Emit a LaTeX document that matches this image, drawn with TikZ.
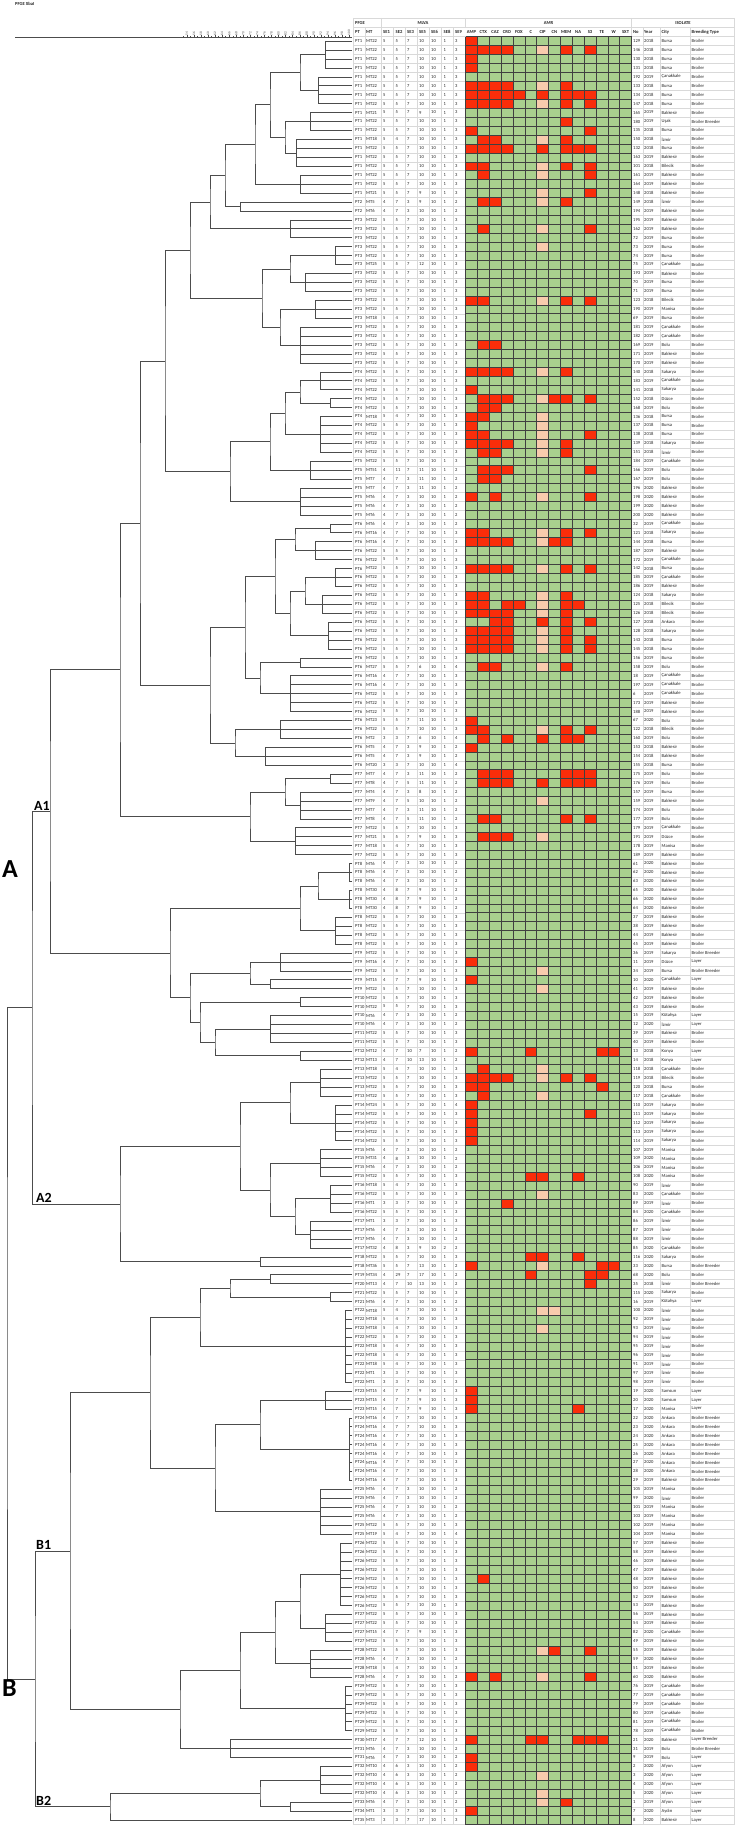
\documentclass[tikz,border=0pt]{standalone}
\usepackage{fontspec}
\setmainfont{Carlito}
\definecolor{amrgreen}{RGB}{169,208,142}
\definecolor{amrred}{RGB}{250,45,10}
\definecolor{amrpale}{RGB}{248,203,173}
\tikzset{branch/.style = {draw = black!70, line width = 0.5pt}}
\tikzset{cell/.style = {anchor = west, inner sep = 0pt, text = black!85, font = \fontsize{4.6}{5}\selectfont}}
\tikzset{colhead/.style = {cell, font = \fontsize{4.6}{5}\selectfont\bfseries}}
\tikzset{amrhead/.style = {colhead, anchor = center}}
\tikzset{clab/.style = {inner sep = 0pt, font = \fontsize{14}{15}\selectfont\bfseries}}
\tikzset{biglab/.style = {inner sep = 0pt, font = \fontsize{26}{28}\selectfont\bfseries}}
\tikzset{scalelab/.style = {anchor = west, rotate = 90, inner sep = 0pt, text = black!70, font = \fontsize{3.4}{4}\selectfont}}
\tikzset{amrline/.style = {draw = black!75, line width = 0.35pt}}
\tikzset{gridline/.style = {draw = black!15, line width = 0.3pt}}
% leaves #3..#4 joined at x = #2
\newcommand\leafs[4]{%
  \coordinate (xx) at (#2,0);
  \foreach \k in {#3,...,#4} {\draw[branch] (l\k) -- (l\k -| xx);}
  \draw[branch] (l#3 -| xx) -- (l#4 -| xx);
  \path (l#3 -| xx) -- (l#4 -| xx) coordinate[midway] (#1);
}
% two clusters joined at x = #2
\newcommand\clade[4]{%
  \coordinate (xx) at (#2,0);
  \path (#3) -- (#4) coordinate[midway] (mm);
  \coordinate (#1) at (mm -| xx);
  \draw[branch] (#3) -| (#1) |- (#4);
}
\newcommand\tyB{Broiler}
\newcommand\tyBB{Broiler Breeder}
\newcommand\tyL{Layer}
\newcommand\tyLB{Layer Breeder}

\begin{document}
\begin{tikzpicture}[x = 1pt, y = -1pt]
\fill[white] (0,0) rectangle (734,1825);
\useasboundingbox (0,0) rectangle (734,1825);

\node[colhead] (title) at (15,4) {PFGE XbaI};

% similarity scale
\draw[black!70, line width = 0.4pt] (15,37) -- (352,37);
\foreach \s in {53,...,100} \draw[black!70, line width = 0.3pt] ({349-3.525*(100-\s)},37) -- ++(0,-1);
\foreach \s [count=\k from 0] in {54,56,...,100} {
  \draw[black!70, line width = 0.3pt] ({349-3.525*(100-\s)},37) -- ++(0,-2);
  \node[scalelab] (sc\k) at ({349-3.525*(100-\s)},35.5) {\s};
}

% headers
\draw[gridline] (353,18) -- (734,18);
\draw[gridline] (353,27.5) -- (734,27.5);
\foreach \x in {353,381,465.5,631.5,734} \draw[gridline] (\x,18) -- (\x,27.5);
\node[colhead] (pfge) at (355,23) {PFGE};
\node[amrhead] (mlva) at (423,23) {MLVA};
\node[amrhead] (amr) at (548.5,23) {AMR};
\node[amrhead] (isolate) at (683,23) {ISOLATE};
\foreach \x/\t [count=\j] in {355/PT,366/MT,383/SE1,395.5/SE2,407/SE3,419/SE5,431/SE6,443.5/SE8,455/SE9,633/No,644/Year,661.5/City,691.5/Breeding Type}
  \node[colhead] (h\j) at (\x,32) {\t};
\foreach \t [count=\j from 0] in {AMP,CTX,CAZ,CRO,FOX,C,CIP,CN,MEM,NA,S3,TE,W,SXT}
  \node[amrhead] (ah\j) at ({465.5+11.857*(\j+0.5)},32) {\t};

% light table grid
\foreach \x in {353,365,381,393,405,417,429,441,453,631.5,643,660,690,734}
  \draw[gridline] (\x,27.5) -- (\x,1824.5);
\foreach \i in {0,...,200} {
  \draw[gridline] (353,{36.53+8.94*\i}) -- (465.5,{36.53+8.94*\i});
  \draw[gridline] (631.5,{36.53+8.94*\i}) -- (734,{36.53+8.94*\i});
}

% AMR profile
\fill[amrgreen] (465.5,36.53) rectangle (631.5,1824.53);
\foreach \r/\cs in {0/{0}, 1/{0,1,2,3,8,10}, 2/{0}, 3/{0}, 5/{0,1,2,3,8}, 6/{0,1,2,3,4,6,8,9,10},
  7/{0,1,2,3,8,10}, 9/{8}, 10/{0,10}, 11/{1,2,8}, 12/{0,1,2,3,6,8,9,10}, 14/{0,1,8,10}, 15/{1,10},
  17/{10}, 18/{1,2,8}, 21/{1,10}, 29/{0,1,8,10}, 34/{1,2}, 37/{0,1,2,3,8}, 39/{0}, 40/{1,2,3,7,8,10},
  41/{1,2}, 42/{0,1}, 43/{0}, 44/{0,1,10}, 45/{0,1,2,3,8}, 46/{1,2,8}, 48/{1,2,3,10}, 49/{1,2},
  51/{0,2,10}, 55/{0,1,8,10}, 56/{0,1,2,3,7,8}, 59/{0,1,2,3,8,10}, 62/{0,1,8}, 63/{0,1,3,4,8,9},
  64/{0,1,2,3,8}, 65/{2,3,6,8,10}, 66/{0,1,2,3,8}, 67/{0,1,2,3,8,10}, 68/{0,1,2,3,8,10}, 70/{1,2,8},
  76/{0}, 77/{0,1,8,10}, 78/{1,3,6,8,9}, 79/{0}, 82/{1,2,3,8,9,10}, 83/{1,2,3,6,8,9,10},
  87/{1,2,8,10}, 89/{1,2,3}, 103/{0}, 105/{0}, 113/{0,5,11,12}, 115/{1}, 116/{0,1,2,3,8,10},
  117/{0,1,11}, 118/{1}, 119/{0}, 120/{0,10}, 121/{0}, 122/{0}, 123/{0}, 127/{5,6,9}, 130/{3},
  136/{5,6,9}, 137/{0,11,12}, 138/{5,10,11}, 139/{10}, 151/{0}, 152/{0}, 153/{0,9}, 172/{1},
  180/{7,10}, 183/{0,2,10}, 190/{0,5,6,9,10,11}, 192/{0}, 193/{0}, 197/{8}, 198/{0}}
  \foreach \c in \cs \fill[amrred] ({465.5+11.857*\c},{36.53+8.94*\r}) rectangle +(11.857,8.94);
\foreach \r/\cs in {1/{6}, 5/{6}, 7/{6}, 11/{6}, 14/{6}, 15/{6}, 17/{6}, 18/{6}, 21/{6}, 23/{6},
  29/{6}, 37/{6}, 40/{6}, 42/{6}, 43/{6}, 44/{6}, 45/{6}, 46/{6}, 51/{6}, 55/{6}, 56/{6}, 59/{6},
  62/{6}, 63/{6}, 64/{6}, 66/{6}, 67/{6}, 68/{6}, 70/{6}, 77/{6}, 85/{6}, 89/{6}, 104/{6}, 106/{6},
  115/{6}, 116/{6}, 118/{6}, 129/{6}, 137/{6}, 142/{6,7}, 144/{6}, 180/{6}, 183/{6}, 194/{6},
  196/{6}, 197/{6}}
  \foreach \c in \cs \fill[amrpale] ({465.5+11.857*\c},{36.53+8.94*\r}) rectangle +(11.857,8.94);
\foreach \j in {0,...,14} \draw[amrline] ({465.5+11.857*\j},36.53) -- ({465.5+11.857*\j},1824.53);
\foreach \i in {0,...,200} \draw[amrline] (465.5,{36.53+8.94*\i}) -- (631.5,{36.53+8.94*\i});

% isolates
\foreach \ptv/\mtv/\va/\vb/\vc/\vd/\ve/\vf/\vg/\nov/\yearv/\cityv/\btype [count=\i from 0] in {
1/22/5/5/7/10/10/1/3/129/2018/Bursa/B, 1/22/5/5/7/10/10/1/3/146/2018/Bursa/B,
1/22/5/5/7/10/10/1/3/130/2018/Bursa/B, 1/22/5/5/7/10/10/1/3/131/2018/Bursa/B,
1/22/5/5/7/10/10/1/3/192/2019/Çanakkale/B, 1/22/5/5/7/10/10/1/3/133/2018/Bursa/B,
1/22/5/5/7/10/10/1/3/134/2018/Bursa/B, 1/22/5/5/7/10/10/1/3/147/2018/Bursa/B,
1/21/5/5/7/9/10/1/3/165/2019/Balıkesir/B, 1/22/5/5/7/10/10/1/3/180/2019/Uşak/BB,
1/22/5/5/7/10/10/1/3/135/2018/Bursa/B, 1/18/5/4/7/10/10/1/3/150/2018/İzmir/B,
1/22/5/5/7/10/10/1/3/132/2018/Bursa/B, 1/22/5/5/7/10/10/1/3/163/2019/Balıkesir/B,
1/22/5/5/7/10/10/1/3/101/2018/Bilecik/B, 1/22/5/5/7/10/10/1/3/161/2019/Balıkesir/B,
1/22/5/5/7/10/10/1/3/164/2019/Balıkesir/B, 1/21/5/5/7/9/10/1/3/148/2018/Balıkesir/B,
2/5/4/7/3/9/10/1/2/149/2018/İzmir/B, 2/6/4/7/3/10/10/1/2/194/2019/Balıkesir/B,
3/22/5/5/7/10/10/1/3/195/2019/Balıkesir/B, 3/22/5/5/7/10/10/1/3/162/2019/Balıkesir/B,
3/22/5/5/7/10/10/1/3/72/2019/Bursa/B, 3/22/5/5/7/10/10/1/3/73/2019/Bursa/B,
3/22/5/5/7/10/10/1/3/74/2019/Bursa/B, 3/25/5/5/7/12/10/1/3/75/2019/Çanakkale/B,
3/22/5/5/7/10/10/1/3/193/2019/Balıkesir/B, 3/22/5/5/7/10/10/1/3/70/2019/Bursa/B,
3/22/5/5/7/10/10/1/3/71/2019/Bursa/B, 3/22/5/5/7/10/10/1/3/123/2018/Bilecik/B,
3/22/5/5/7/10/10/1/3/190/2019/Manisa/B, 3/18/5/4/7/10/10/1/3/69/2019/Bursa/B,
3/22/5/5/7/10/10/1/3/181/2019/Çanakkale/B, 3/22/5/5/7/10/10/1/3/182/2019/Çanakkale/B,
3/22/5/5/7/10/10/1/3/169/2019/Bolu/B, 3/22/5/5/7/10/10/1/3/171/2019/Balıkesir/B,
3/22/5/5/7/10/10/1/3/170/2019/Balıkesir/B, 4/22/5/5/7/10/10/1/3/140/2018/Sakarya/B,
4/22/5/5/7/10/10/1/3/183/2019/Çanakkale/B, 4/22/5/5/7/10/10/1/3/141/2018/Sakarya/B,
4/22/5/5/7/10/10/1/3/152/2018/Düzce/B, 4/22/5/5/7/10/10/1/3/168/2019/Bolu/B,
4/18/5/4/7/10/10/1/3/136/2018/Bursa/B, 4/22/5/5/7/10/10/1/3/137/2018/Bursa/B,
4/22/5/5/7/10/10/1/3/138/2018/Bursa/B, 4/22/5/5/7/10/10/1/3/139/2018/Sakarya/B,
4/22/5/5/7/10/10/1/3/151/2018/İzmir/B, 5/22/5/5/7/10/10/1/3/184/2019/Çanakkale/B,
5/51/4/11/7/11/10/1/2/166/2019/Bolu/B, 5/7/4/7/3/11/10/1/2/167/2019/Bolu/B,
5/7/4/7/3/11/10/1/2/196/2020/Balıkesir/B, 5/6/4/7/3/10/10/1/2/198/2020/Balıkesir/B,
5/6/4/7/3/10/10/1/2/199/2020/Balıkesir/B, 5/6/4/7/3/10/10/1/2/200/2020/Balıkesir/B,
6/6/4/7/3/10/10/1/2/32/2019/Çanakkale/B, 6/16/4/7/7/10/10/1/3/121/2018/Sakarya/B,
6/16/4/7/7/10/10/1/3/144/2018/Bursa/B, 6/22/5/5/7/10/10/1/3/187/2019/Balıkesir/B,
6/22/5/5/7/10/10/1/3/172/2019/Çanakkale/B, 6/22/5/5/7/10/10/1/3/142/2018/Bursa/B,
6/22/5/5/7/10/10/1/3/185/2019/Çanakkale/B, 6/22/5/5/7/10/10/1/3/186/2019/Balıkesir/B,
6/22/5/5/7/10/10/1/3/124/2018/Sakarya/B, 6/22/5/5/7/10/10/1/3/125/2018/Bilecik/B,
6/22/5/5/7/10/10/1/3/126/2018/Bilecik/B, 6/22/5/5/7/10/10/1/3/127/2018/Ankara/B,
6/22/5/5/7/10/10/1/3/128/2018/Sakarya/B, 6/22/5/5/7/10/10/1/3/143/2018/Bursa/B,
6/22/5/5/7/10/10/1/3/145/2018/Bursa/B, 6/22/5/5/7/10/10/1/3/156/2019/Bursa/B,
6/27/5/5/7/6/10/1/4/158/2019/Bolu/B, 6/16/4/7/7/10/10/1/3/18/2019/Çanakkale/B,
6/16/4/7/7/10/10/1/3/197/2019/Çanakkale/B, 6/22/5/5/7/10/10/1/3/6/2019/Çanakkale/B,
6/22/5/5/7/10/10/1/3/173/2019/Balıkesir/B, 6/22/5/5/7/10/10/1/3/188/2019/Balıkesir/B,
6/23/5/5/7/11/10/1/3/67/2020/Bolu/B, 6/22/5/5/7/10/10/1/3/122/2018/Bilecik/B,
6/2/3/3/7/6/10/1/4/160/2019/Bolu/B, 6/5/4/7/3/9/10/1/2/153/2018/Balıkesir/B,
6/5/4/7/3/9/10/1/2/154/2018/Balıkesir/B, 6/20/3/3/7/10/10/1/4/155/2018/Bursa/B,
7/7/4/7/3/11/10/1/2/175/2019/Bolu/B, 7/8/4/7/5/11/10/1/2/176/2019/Bolu/B,
7/4/4/7/3/8/10/1/2/157/2019/Bursa/B, 7/9/4/7/5/10/10/1/2/159/2019/Balıkesir/B,
7/7/4/7/3/11/10/1/2/174/2019/Bolu/B, 7/8/4/7/5/11/10/1/2/177/2019/Bolu/B,
7/22/5/5/7/10/10/1/3/179/2019/Çanakkale/B, 7/21/5/5/7/9/10/1/3/191/2019/Düzce/B,
7/18/5/4/7/10/10/1/3/178/2019/Manisa/B, 7/22/5/5/7/10/10/1/3/189/2019/Balıkesir/B,
8/6/4/7/3/10/10/1/2/61/2020/Balıkesir/B, 8/6/4/7/3/10/10/1/2/62/2020/Balıkesir/B,
8/6/4/7/3/10/10/1/2/63/2020/Balıkesir/B, 8/30/4/8/7/9/10/1/2/65/2020/Balıkesir/B,
8/30/4/8/7/9/10/1/2/66/2020/Balıkesir/B, 8/30/4/8/7/9/10/1/2/64/2020/Balıkesir/B,
8/22/5/5/7/10/10/1/3/37/2019/Balıkesir/B, 8/22/5/5/7/10/10/1/3/38/2019/Balıkesir/B,
8/22/5/5/7/10/10/1/3/44/2019/Balıkesir/B, 8/22/5/5/7/10/10/1/3/45/2019/Balıkesir/B,
9/22/5/5/7/10/10/1/3/36/2019/Sakarya/BB, 9/16/4/7/7/10/10/1/3/11/2019/Düzce/L,
9/22/5/5/7/10/10/1/3/34/2019/Bursa/BB, 9/15/4/7/7/9/10/1/3/10/2020/Çanakkale/L,
9/22/5/5/7/10/10/1/3/41/2019/Balıkesir/B, 10/22/5/5/7/10/10/1/3/42/2019/Balıkesir/B,
10/22/5/5/7/10/10/1/3/43/2019/Balıkesir/B, 10/6/4/7/3/10/10/1/2/15/2019/Kütahya/L,
10/6/4/7/3/10/10/1/2/12/2020/İzmir/L, 11/22/5/5/7/10/10/1/3/39/2019/Balıkesir/B,
11/22/5/5/7/10/10/1/3/40/2019/Balıkesir/B, 12/12/4/7/10/7/10/1/2/13/2018/Konya/L,
12/13/4/7/10/13/10/1/2/14/2018/Konya/L, 13/18/5/4/7/10/10/1/3/118/2018/Çanakkale/B,
13/22/5/5/7/10/10/1/3/119/2018/Bilecik/B, 13/22/5/5/7/10/10/1/3/120/2018/Bursa/B,
13/22/5/5/7/10/10/1/3/117/2018/Çanakkale/B, 14/24/5/5/7/10/10/1/4/110/2019/Sakarya/B,
14/22/5/5/7/10/10/1/3/111/2019/Sakarya/B, 14/22/5/5/7/10/10/1/3/112/2019/Sakarya/B,
14/22/5/5/7/10/10/1/3/113/2019/Sakarya/B, 14/22/5/5/7/10/10/1/3/114/2019/Sakarya/B,
15/6/4/7/3/10/10/1/2/107/2019/Manisa/B, 15/31/4/8/3/10/10/1/2/109/2020/Manisa/B,
15/6/4/7/3/10/10/1/2/106/2019/Manisa/B, 15/22/5/5/7/10/10/1/3/108/2020/Manisa/B,
16/18/5/4/7/10/10/1/3/90/2019/İzmir/B, 16/22/5/5/7/10/10/1/3/83/2020/Çanakkale/B,
16/1/3/3/7/10/10/1/3/89/2019/İzmir/B, 16/22/5/5/7/10/10/1/3/84/2020/Çanakkale/B,
17/1/3/3/7/10/10/1/3/86/2019/İzmir/B, 17/6/4/7/3/10/10/1/2/87/2019/İzmir/B,
17/6/4/7/3/10/10/1/2/88/2019/İzmir/B, 17/32/4/8/3/9/10/2/2/85/2020/Çanakkale/B,
18/22/5/5/7/10/10/1/3/116/2020/Sakarya/B, 18/36/5/5/7/13/10/1/2/33/2020/Bursa/BB,
19/34/4/29/7/17/10/1/2/68/2020/Bolu/B, 20/13/4/7/10/13/10/1/2/35/2018/İzmir/BB,
21/22/5/5/7/10/10/1/3/115/2020/Sakarya/B, 21/6/4/7/3/10/10/1/2/16/2019/Kütahya/L,
22/18/5/4/7/10/10/1/3/100/2020/İzmir/B, 22/18/5/4/7/10/10/1/3/92/2019/İzmir/B,
22/18/5/4/7/10/10/1/3/93/2019/İzmir/B, 22/22/5/5/7/10/10/1/3/94/2019/İzmir/B,
22/18/5/4/7/10/10/1/3/95/2019/İzmir/B, 22/18/5/4/7/10/10/1/3/96/2019/İzmir/B,
22/18/5/4/7/10/10/1/3/91/2019/İzmir/B, 22/1/3/3/7/10/10/1/3/97/2019/İzmir/B,
22/1/3/3/7/10/10/1/3/98/2019/İzmir/B, 23/15/4/7/7/9/10/1/3/19/2020/Samsun/L,
23/15/4/7/7/9/10/1/3/20/2020/Samsun/L, 23/15/4/7/7/9/10/1/3/17/2020/Manisa/L,
24/16/4/7/7/10/10/1/3/22/2020/Ankara/BB, 24/16/4/7/7/10/10/1/3/23/2020/Ankara/BB,
24/16/4/7/7/10/10/1/3/24/2020/Ankara/BB, 24/16/4/7/7/10/10/1/3/25/2020/Ankara/BB,
24/16/4/7/7/10/10/1/3/26/2020/Ankara/BB, 24/16/4/7/7/10/10/1/3/27/2020/Ankara/BB,
24/16/4/7/7/10/10/1/3/28/2020/Ankara/BB, 24/16/4/7/7/10/10/1/3/29/2019/Balıkesir/BB,
25/6/4/7/3/10/10/1/2/105/2019/Manisa/B, 25/6/4/7/3/10/10/1/2/99/2020/İzmir/B,
25/6/4/7/3/10/10/1/2/101/2019/Manisa/B, 25/6/4/7/3/10/10/1/2/103/2019/Manisa/B,
25/22/5/5/7/10/10/1/3/102/2019/Manisa/B, 25/19/5/4/7/10/10/1/4/104/2019/Manisa/B,
26/22/5/5/7/10/10/1/3/57/2019/Balıkesir/B, 26/22/5/5/7/10/10/1/3/58/2019/Balıkesir/B,
26/22/5/5/7/10/10/1/3/46/2019/Balıkesir/B, 26/22/5/5/7/10/10/1/3/47/2019/Balıkesir/B,
26/22/5/5/7/10/10/1/3/48/2019/Balıkesir/B, 26/22/5/5/7/10/10/1/3/50/2019/Balıkesir/B,
26/22/5/5/7/10/10/1/3/52/2019/Balıkesir/B, 26/22/5/5/7/10/10/1/3/53/2019/Balıkesir/B,
27/22/5/5/7/10/10/1/3/56/2019/Balıkesir/B, 27/22/5/5/7/10/10/1/3/54/2019/Balıkesir/B,
27/15/4/7/7/9/10/1/3/82/2020/Çanakkale/B, 27/22/5/5/7/10/10/1/3/49/2019/Balıkesir/B,
28/22/5/5/7/10/10/1/3/55/2019/Balıkesir/B, 28/6/4/7/3/10/10/1/2/59/2020/Balıkesir/B,
28/18/5/4/7/10/10/1/3/51/2019/Balıkesir/B, 28/6/4/7/3/10/10/1/2/60/2020/Balıkesir/B,
29/22/5/5/7/10/10/1/3/76/2019/Çanakkale/B, 29/22/5/5/7/10/10/1/3/77/2019/Çanakkale/B,
29/22/5/5/7/10/10/1/3/79/2019/Çanakkale/B, 29/22/5/5/7/10/10/1/3/80/2019/Çanakkale/B,
29/22/5/5/7/10/10/1/3/81/2019/Çanakkale/B, 29/22/5/5/7/10/10/1/3/78/2019/Çanakkale/B,
30/17/4/7/7/12/10/1/3/21/2020/Balıkesir/LB, 31/6/4/7/3/10/10/1/2/31/2019/Bolu/BB,
31/6/4/7/3/10/10/1/2/9/2019/Bolu/L, 32/10/4/6/3/10/10/1/2/2/2020/Afyon/L,
32/10/4/6/3/10/10/1/2/3/2020/Afyon/L, 32/10/4/6/3/10/10/1/2/4/2020/Afyon/L,
32/10/4/6/3/10/10/1/2/5/2020/Afyon/L, 33/6/4/7/3/10/10/1/2/1/2019/Afyon/L,
34/1/3/3/7/10/10/1/3/7/2020/Aydın/L, 35/3/3/3/7/17/10/1/3/8/2020/Balıkesir/L} {
  \coordinate (l\i) at (352,{41+8.94*\i});
  \node[cell] (pt\i) at (355,{41+8.94*\i}) {PT\ptv};
  \node[cell] (mt\i) at (366,{41+8.94*\i}) {MT\mtv};
  \node[cell] (sa\i) at (383,{41+8.94*\i}) {\va};
  \node[cell] (sb\i) at (395.5,{41+8.94*\i}) {\vb};
  \node[cell] (sc\i) at (407,{41+8.94*\i}) {\vc};
  \node[cell] (sd\i) at (419,{41+8.94*\i}) {\vd};
  \node[cell] (se\i) at (431,{41+8.94*\i}) {\ve};
  \node[cell] (sf\i) at (443.5,{41+8.94*\i}) {\vf};
  \node[cell] (sg\i) at (455,{41+8.94*\i}) {\vg};
  \node[cell] (no\i) at (633,{41+8.94*\i}) {\nov};
  \node[cell] (yr\i) at (644,{41+8.94*\i}) {\yearv};
  \node[cell] (ci\i) at (661.5,{41+8.94*\i}) {\cityv};
  \node[cell] (bt\i) at (691.5,{41+8.94*\i}) {\csname ty\btype\endcsname};
}

% dendrogram, cluster A1
\leafs{a1}{325}{0}{3}
\leafs{a2}{318}{4}{7}
\clade{a3}{300}{a1}{a2}
\leafs{a4}{310}{8}{10}
\leafs{a5}{296}{11}{14}
\clade{a6}{285}{a4}{a5}
\clade{a7}{270}{a3}{a6}
\leafs{a8}{300}{15}{17}
\clade{a9}{255}{a7}{a8}
\leafs{a10}{240}{18}{19}
\clade{a11}{225}{a9}{a10}
\leafs{a12}{290}{20}{22}
\clade{a13}{210}{a11}{a12}
\leafs{b1}{335}{23}{25}
\leafs{b2}{305}{26}{28}
\clade{b3}{290}{b1}{b2}
\leafs{b4}{315}{29}{31}
\leafs{b5}{300}{32}{36}
\clade{b6}{280}{b4}{b5}
\clade{b7}{262}{b3}{b6}
\clade{b8}{190}{a13}{b7}
\leafs{c1}{320}{37}{39}
\leafs{c2}{330}{40}{41}
\clade{c3}{300}{c1}{c2}
\leafs{c4}{320}{42}{46}
\clade{c5}{285}{c3}{c4}
\leafs{c6}{310}{47}{49}
\clade{c7}{270}{c5}{c6}
\leafs{c8}{300}{50}{53}
\clade{c9}{230}{c7}{c8}
\clade{c10}{165}{b8}{c9}
\leafs{d1}{330}{54}{55}
\leafs{d2}{315}{56}{58}
\clade{d3}{295}{d1}{d2}
\leafs{d4}{335}{59}{61}
\leafs{d5}{322}{62}{64}
\clade{d6}{305}{d4}{d5}
\leafs{d7}{328}{65}{68}
\clade{d8}{290}{d6}{d7}
\clade{d9}{275}{d3}{d8}
\leafs{d10}{300}{69}{70}
\leafs{d11}{290}{71}{75}
\clade{d12}{260}{d10}{d11}
\clade{d13}{245}{d9}{d12}
\leafs{d14}{280}{76}{78}
\leafs{d15}{265}{79}{81}
\clade{d16}{235}{d14}{d15}
\clade{d17}{210}{d13}{d16}
\clade{d18}{140}{c10}{d17}
\leafs{e1}{330}{82}{83}
\leafs{e2}{300}{84}{87}
\clade{e3}{285}{e1}{e2}
\leafs{e4}{295}{88}{91}
\clade{e5}{250}{e3}{e4}
\clade{p1}{120}{d18}{e5}
\leafs{f1a}{349}{92}{94}
\leafs{f1b}{349}{95}{97}
\clade{f1}{318}{f1a}{f1b}
\leafs{f2}{335}{98}{101}
\clade{f3}{300}{f1}{f2}
\leafs{f4}{280}{102}{104}
\leafs{f5}{270}{105}{106}
\clade{f6}{250}{f4}{f5}
\leafs{f8}{300}{107}{108}
\leafs{f9}{270}{109}{112}
\leafs{k1}{300}{113}{114}
\clade{f9k}{215}{f9}{k1}
\clade{f10}{200}{f8}{f9k}
\clade{f7}{190}{f6}{f10}
\clade{f11}{170}{f3}{f7}
\clade{A1}{50}{p1}{f11}
% cluster A2
\leafs{g1}{320}{115}{118}
\leafs{g2}{335}{119}{123}
\clade{g3}{290}{g1}{g2}
\leafs{g4}{320}{124}{127}
\leafs{g5}{330}{128}{131}
\leafs{g6}{310}{132}{135}
\clade{g7}{295}{g5}{g6}
\clade{g8}{270}{g4}{g7}
\clade{g9}{240}{g3}{g8}
\leafs{g10}{260}{136}{137}
\clade{A2}{120}{g9}{g10}
\clade{A}{32}{A1}{A2}
% cluster B1
\leafs{h1}{270}{138}{139}
\leafs{h2}{330}{140}{141}
\clade{h3}{230}{h1}{h2}
\leafs{h4}{345}{142}{150}
\clade{h5}{200}{h3}{h4}
\leafs{h6}{325}{151}{153}
\leafs{h7}{349}{154}{161}
\clade{h8}{260}{h6}{h7}
\leafs{h9}{320}{162}{167}
\clade{h10}{215}{h8}{h9}
\clade{h11}{150}{h5}{h10}
\leafs{h12}{340}{168}{175}
\leafs{h13}{325}{176}{179}
\clade{h14}{300}{h12}{h13}
\leafs{h15}{310}{180}{183}
\clade{h16}{275}{h14}{h15}
\leafs{h17}{345}{184}{189}
\clade{h18}{240}{h16}{h17}
\leafs{h19}{230}{190}{192}
\clade{h20}{180}{h18}{h19}
\clade{B1}{70}{h11}{h20}
% cluster B2
\leafs{i1}{320}{193}{196}
\leafs{i2}{290}{197}{198}
\clade{i3}{260}{i1}{i2}
\clade{B2}{110}{i3}{l199}
\clade{B}{35}{B1}{B2}
\clade{root}{7}{A}{B}

\node[biglab, anchor = south west] (labA) at (2,878) {A};
\node[biglab, anchor = north west] (labB) at ([xshift=-33pt,yshift=-1pt]B) {B};
\node[clab, anchor = south west] (labA1) at ([xshift=-16pt,yshift=1pt]A1) {A1};
\node[clab, anchor = south west] (labA2) at ([xshift=-84pt,yshift=1pt]A2) {A2};
\node[clab, anchor = south west] (labB1) at ([xshift=-34pt,yshift=1pt]B1) {B1};
\node[clab, anchor = south west] (labB2) at ([xshift=-74pt,yshift=1pt]B2) {B2};
\end{tikzpicture}
\end{document}
